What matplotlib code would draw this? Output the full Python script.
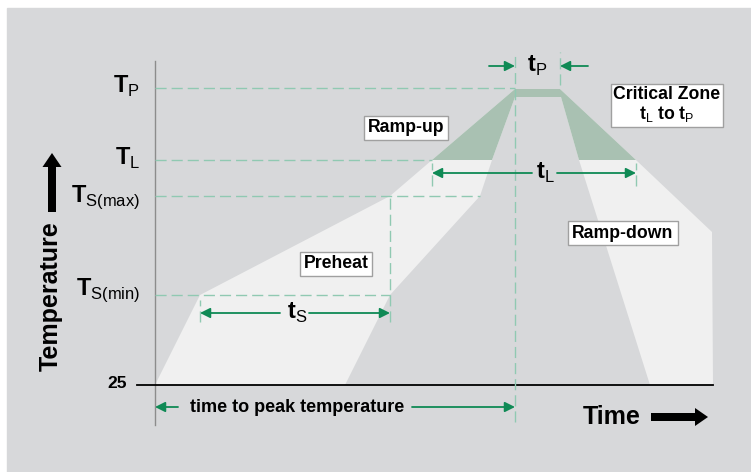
import numpy as np
import matplotlib.pyplot as plt
from matplotlib.patches import Rectangle, Polygon

plt.rcParams['font.family'] = ['Liberation Sans', 'DejaVu Sans']
plt.rcParams['mathtext.fontset'] = 'custom'
plt.rcParams['mathtext.rm'] = 'Liberation Sans'
plt.rcParams['mathtext.bf'] = 'Liberation Sans:bold'

# Schematic units: time from profile start, height above the 25 degree line
levels = [0, 90, 189, 225, 297]
level_names = ['25', 'S(min)', 'S(max)', 'L', 'P']
level_baseline = [0, 90, 183, 220, 292]      # where each label sits

# slowest allowed profile (outer edge of the window)
slow_t = [0, 45, 235, 277, 360, 405, 481, 557, 558]
slow_T = [0, 90, 189, 225, 296, 296, 225, 153, 0]
# fastest allowed profile (inner edge of the window)
fast_t = [190, 235, 325, 337, 360, 406, 424, 495]
fast_T = [0, 90, 189, 225, 288, 288, 225, 0]

# time marks
ts_start, ts_end = 45, 235
tl_start, tl_end = 277, 481
tp_start, tp_end = 360, 405

zone_names = ['Ramp-up', 'Preheat', 'Ramp-down']
zone_pos = [(251, 257), (181, 121), (468, 152)]

BG = '#d7d8da'
LIGHT = '#f0f0f0'
ZONE = '#a9c1b2'
GREEN = '#0f8a55'
DASH = '#90c9b2'

fig = plt.figure(figsize=(7.51, 4.72), dpi=100)
ax = fig.add_axes([0, 0, 1, 1])
ax.set_xlim(-155, 596)
ax.set_ylim(-87, 385)
ax.axis('off')

ax.add_patch(Rectangle((-148, -87), 760, 464, color=BG, zorder=0))

# process window between slow and fast profile
band = list(zip(slow_t, slow_T)) + list(zip(fast_t, fast_T))[::-1]
ax.add_patch(Polygon(band, closed=True, color=LIGHT, lw=0, zorder=1))

# part of the window above T_L
TL = levels[3]
top_out = [(t, T) for t, T in zip(slow_t, slow_T) if T >= TL]
top_in = [(t, T) for t, T in zip(fast_t, fast_T) if T >= TL]
ax.add_patch(Polygon(top_out + top_in[::-1], closed=True, color=ZONE, lw=0, zorder=2))

# axes
ax.plot([0, 0], [-40, 324], color='#8c8c8c', lw=1, zorder=3)
ax.plot([-18, slow_t[-1]], [0, 0], color='black', lw=1.3, zorder=3)

dash = dict(color=DASH, lw=1, ls=(0, (8, 3.6)), zorder=3)
# horizontal guide lines
ax.plot([0, tp_start], [levels[4]] * 2, **dash)
ax.plot([0, tl_start], [levels[3]] * 2, **dash)
ax.plot([0, fast_t[2]], [levels[2]] * 2, **dash)
ax.plot([0, ts_end], [levels[1]] * 2, **dash)
# vertical guide lines
ax.plot([ts_start, ts_start], [63, 85], **dash)
ax.plot([ts_end, ts_end], [63, levels[2]], **dash)
ax.plot([tl_start, tl_start], [199, 222], **dash)
ax.plot([tl_end, tl_end], [199, 222], **dash)
ax.plot([tp_start, tp_start], [-37, 333], **dash)
ax.plot([tp_end, tp_end], [300, 333], **dash)

# level labels
for name, base in zip(level_names, level_baseline):
    if name == '25':
        ax.text(-38, 1, name, fontsize=12.5, fontweight='bold', ha='center', va='center')
    else:
        ax.text(-15, base, r'$\mathbf{T}_{\mathrm{%s}}$' % name, fontsize=17,
                ha='right', va='baseline')


def arrow(x0, x1, y):
    ax.annotate('', xy=(x1, y), xytext=(x0, y),
                arrowprops=dict(arrowstyle='-|>', color=GREEN, lw=1.3,
                                mutation_scale=15, shrinkA=0, shrinkB=0), zorder=4)


# t_S
arrow(125, ts_start, 72)
arrow(154, ts_end, 72)
ax.text(142, 72, r'$\mathbf{t}_{\mathrm{S}}$', fontsize=17, ha='center', va='center')
# t_L
arrow(377, tl_start, 212)
arrow(402, tl_end, 212)
ax.text(390, 212, r'$\mathbf{t}_{\mathrm{L}}$', fontsize=17, ha='center', va='center')
# t_P
arrow(334, tp_start, 319)
arrow(433, tp_end, 319)
ax.text(382, 319, r'$\mathbf{t}_{\mathrm{P}}$', fontsize=17, ha='center', va='center')
# time to peak
arrow(23, 0, -22)
arrow(257, tp_start, -22)
ax.text(35, -22, 'time to peak temperature', fontsize=13, fontweight='bold',
        ha='left', va='center')

box = dict(boxstyle='square,pad=0.22', fc='white', ec='#a0a0a0', lw=1)
for name, (x, y) in zip(zone_names, zone_pos):
    ax.text(x, y, name, fontsize=12.7, fontweight='bold', ha='center', va='center',
            bbox=box, zorder=5)
ax.text(512, 280, 'Critical Zone\n' + r'$\mathbf{t}_{\mathrm{L}}$ to $\mathbf{t}_{\mathrm{P}}$',
        fontsize=12.7, fontweight='bold', ha='center', va='center', linespacing=1.1,
        bbox=dict(boxstyle='square,pad=0.15', fc='white', ec='#a0a0a0', lw=1), zorder=5)

# axis titles with block arrows
ax.text(-104, 89, 'Temperature', fontsize=18, fontweight='bold', rotation=90,
        ha='center', va='center')
ax.arrow(-103, 173, 0, 45, width=8, head_width=19, head_length=14, color='black', lw=0)
ax.text(457, -32, 'Time', fontsize=18, fontweight='bold', ha='center', va='center')
ax.arrow(496, -32, 44, 0, width=8, head_width=18, head_length=13, color='black', lw=0)

plt.savefig('out.png', dpi=100)
